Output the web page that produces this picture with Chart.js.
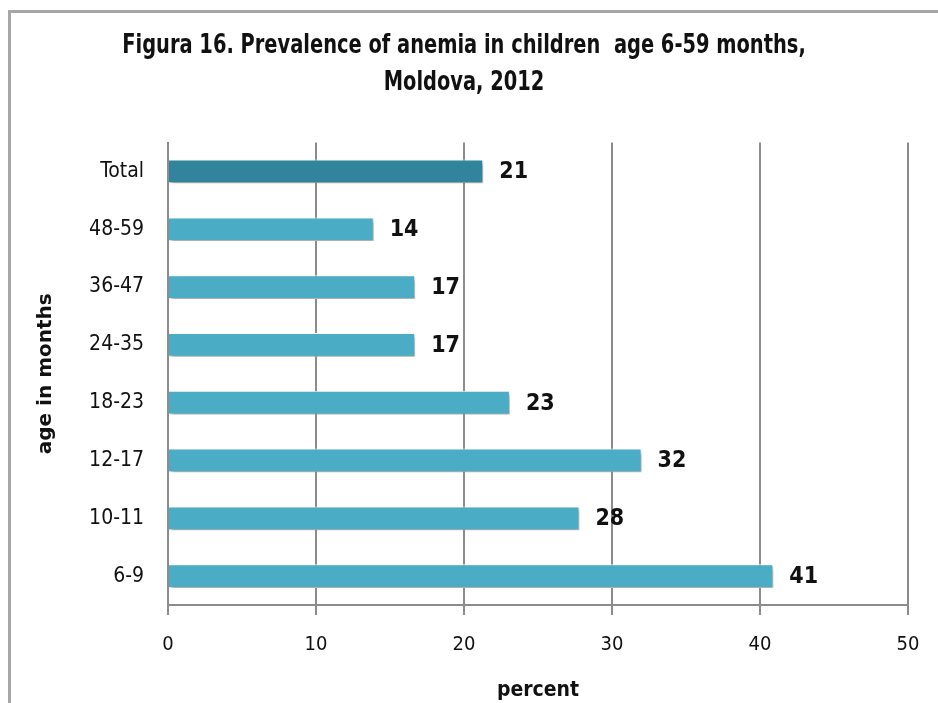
<!DOCTYPE html>
<html lang="en">

<head>
    <meta charset="UTF-8">
    <title>Figura 16</title>
    <script src="https://cdn.jsdelivr.net/npm/chart.js"></script>
    <style>
        body {
            margin: 0;
            background: white;
        }

        #wrap {
            position: relative;
            width: 938px;
            height: 703px;
        }
    </style>
</head>

<body>
    <div id="wrap">
        <canvas id="mycanvas"></canvas>
    </div>

    <script type="text/javascript">
        // data (top to bottom)
        const categories = ['Total', '48-59', '36-47', '24-35', '18-23', '12-17', '10-11', '6-9'];
        const prevalence = [21.3, 13.9, 16.7, 16.7, 23.1, 32.0, 27.8, 40.9];
        const xTicks = [0, 10, 20, 30, 40, 50];
        const titleLines = ['Figura 16. Prevalence of anemia in children  age 6-59 months,', 'Moldova, 2012'];

        const narrow = "'Liberation Sans Narrow', 'DejaVu Sans Condensed', 'Roboto Condensed', Arial, sans-serif";

        const barColors = categories.map(c => c === 'Total' ? '#31849b' : '#4bacc6');

        // grey frame on top and left edge
        const framePlugin = {
            id: 'frame',
            beforeDraw(chart) {
                const ctx = chart.ctx;
                ctx.save();
                ctx.strokeStyle = '#a6a6a6';
                ctx.lineWidth = 3;
                ctx.beginPath();
                ctx.moveTo(9.5, chart.height);
                ctx.lineTo(9.5, 11.5);
                ctx.lineTo(chart.width, 11.5);
                ctx.stroke();
                ctx.restore();
            }
        };

        // the title font in the picture is much narrower, so squeeze it a bit
        const squeezedTitle = {
            id: 'squeezedTitle',
            afterDraw(chart) {
                const tb = chart.titleBlock;
                const opts = tb.options;
                const lh = opts.font.size * opts.font.lineHeight;
                const ctx = chart.ctx;
                ctx.save();
                ctx.font = 'bold ' + opts.font.size + 'px ' + narrow;
                ctx.fillStyle = '#111';
                ctx.textAlign = 'center';
                ctx.textBaseline = 'middle';
                const cx = (tb.left + tb.right) / 2;
                titleLines.forEach((line, i) => {
                    ctx.save();
                    ctx.translate(cx, tb.top + opts.padding.top + lh * (i + 0.5));
                    ctx.scale(0.8, 1);
                    ctx.fillText(line, 0, 0);
                    ctx.restore();
                });
                ctx.restore();
            }
        };

        // soft shadow under the bars
        const shadowPlugin = {
            id: 'barShadow',
            beforeDatasetsDraw(chart) {
                const ctx = chart.ctx;
                ctx.save();
                ctx.shadowColor = 'rgba(0,0,0,0.35)';
                ctx.shadowBlur = 4;
                ctx.shadowOffsetX = 2;
                ctx.shadowOffsetY = 3;
            },
            afterDatasetsDraw(chart) {
                chart.ctx.restore();
            }
        };

        // value labels at the end of each bar
        const labelPlugin = {
            id: 'valueLabels',
            afterDatasetsDraw(chart) {
                const ctx = chart.ctx;
                const meta = chart.getDatasetMeta(0);
                ctx.save();
                ctx.font = 'bold 23px ' + narrow;
                ctx.fillStyle = '#111';
                ctx.textAlign = 'left';
                ctx.textBaseline = 'middle';
                meta.data.forEach((bar, i) => {
                    ctx.fillText(Math.round(prevalence[i]), bar.x + 16, bar.y + 1);
                });
                ctx.restore();
            }
        };

        const ctx = document.getElementById('mycanvas').getContext('2d');

        new Chart(ctx, {
            type: 'bar',
            data: {
                labels: categories,
                datasets: [{
                    data: prevalence,
                    backgroundColor: barColors,
                    borderColor: '#ffffff',
                    borderWidth: 1,
                    borderSkipped: 'start',
                    categoryPercentage: 1,
                    barPercentage: 0.41
                }]
            },
            options: {
                indexAxis: 'y',
                responsive: true,
                maintainAspectRatio: false,
                animation: false,
                layout: {
                    padding: { left: 20, right: 30, top: 0, bottom: 0 }
                },
                plugins: {
                    legend: { display: false },
                    tooltip: { enabled: false },
                    title: {
                        // space is kept by the built-in title, the text itself is drawn by squeezedTitle
                        display: true,
                        text: titleLines,
                        color: 'rgba(0,0,0,0)',
                        font: { family: narrow, size: 27, weight: 'bold', lineHeight: 1.38 },
                        padding: { top: 27, bottom: 41 }
                    }
                },
                scales: {
                    x: {
                        min: 0,
                        max: 50,
                        afterBuildTicks(scale) {
                            scale.ticks = xTicks.map(v => ({ value: v }));
                        },
                        afterFit(scale) {
                            scale.height = 98;
                        },
                        grid: {
                            color: '#8c8c8c',
                            lineWidth: 2,
                            tickLength: 10,
                            tickColor: '#8c8c8c'
                        },
                        border: { color: '#8c8c8c', width: 2 },
                        ticks: {
                            color: '#111',
                            padding: 18,
                            font: { family: narrow, size: 20 }
                        },
                        title: {
                            display: true,
                            text: 'percent',
                            color: '#111',
                            font: { family: narrow, size: 21, weight: 'bold' },
                            padding: { top: 0, bottom: 0 }
                        }
                    },
                    y: {
                        afterFit(scale) {
                            scale.width = 148;
                        },
                        grid: { display: false, drawTicks: false },
                        border: { color: '#8c8c8c', width: 2 },
                        ticks: {
                            color: '#111',
                            padding: 24,
                            font: { family: narrow, size: 21 }
                        },
                        title: {
                            display: true,
                            text: 'age in months',
                            color: '#111',
                            font: { family: "'DejaVu Sans', Verdana, sans-serif", size: 20, weight: 'bold' },
                            padding: { top: 14, bottom: 0 }
                        }
                    }
                }
            },
            plugins: [framePlugin, squeezedTitle, shadowPlugin, labelPlugin]
        });
    </script>

</body>

</html>
